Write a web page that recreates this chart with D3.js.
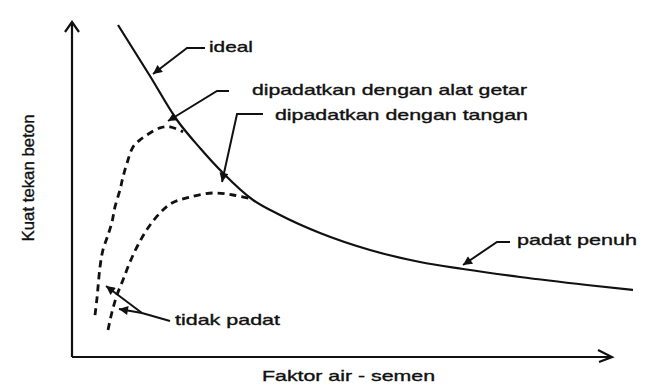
<!DOCTYPE html>
<html>
<head>
<meta charset="utf-8">
<script src="https://cdn.jsdelivr.net/npm/d3@7"></script>
<style>
  html, body { margin: 0; padding: 0; background: #fff; }
  svg { display: block; }
  text { font-family: "Liberation Sans", Arial, sans-serif; fill: #111; stroke: #111; stroke-width: 0.35px; }
</style>
</head>
<body>
<svg id="chart" width="651" height="385"></svg>
<script>
// curve values (x = faktor air-semen, y = kuat tekan, both 0..100 of the axes)
const idealX = [8.52, 14.44, 19.44, 23.7, 27.96, 33.52, 38.52, 45.93, 55.19, 64.44, 72.41, 82.96, 95.37, 103.89];
const idealY = [99.1, 83.88, 70.75, 62.39, 54.93, 46.87, 42.39, 37.01, 31.94, 28.36, 26.27, 23.88, 21.49, 20.0];

const getarX = [4.26, 4.63, 5.19, 5.74, 6.67, 7.41, 7.96, 8.89, 9.44, 10.19, 11.3, 12.59, 13.89, 16.3, 18.15, 20.56];
const getarY = [12.5, 17.6, 26.9, 32.0, 36.4, 40.3, 44.8, 49.9, 53.7, 57.9, 62.7, 64.8, 66.3, 68.4, 68.7, 67.2];

const tanganX = [6.67, 7.41, 8.33, 9.44, 10.74, 12.22, 14.07, 16.3, 18.52, 21.85, 26.11, 29.81, 33.33];
const tanganY = [8.06, 13.43, 18.51, 22.99, 28.36, 33.43, 38.51, 42.99, 45.97, 47.76, 48.96, 48.36, 47.16];

// labels and where their arrows point (in axis units)
const labels = ["ideal", "dipadatkan dengan alat getar", "dipadatkan dengan tangan", "padat penuh", "tidak padat"];
const labelPos = [[25.37, 91.04], [33.33, 78.21], [37.59, 70.75], [82.41, 33.43], [19.07, 9.55]];
const labelWidth = [44, 275, 253, 120, 105];
const leaders = [
  [[[24.63, 92.24], [21.3, 92.24], [15.0, 84.48]]],
  [[[29.07, 79.4], [26.85, 79.4], [17.78, 70.45]]],
  [[[35.37, 72.54], [30.56, 72.54], [27.78, 52.24]]],
  [[[81.11, 34.33], [78.7, 34.33], [72.41, 27.46]]],
  [[[18.15, 10.75], [12.96, 13.13], [8.7, 14.33]], [[12.96, 13.13], [6.3, 21.19]]]
];

const xTitle = "Faktor air - semen";
const yTitle = "Kuat tekan beton";

const svg = d3.select("#chart");

const x = d3.scaleLinear().domain([0, 100]).range([72, 612]);
const y = d3.scaleLinear().domain([0, 100]).range([357, 22]);

svg.append("defs").append("marker")
  .attr("id", "tip")
  .attr("viewBox", "0 0 10 10")
  .attr("refX", 10).attr("refY", 5)
  .attr("markerUnits", "userSpaceOnUse")
  .attr("markerWidth", 11).attr("markerHeight", 9)
  .attr("orient", "auto")
  .append("path")
  .attr("d", "M0,0 L10,5 L0,10 Z")
  .attr("fill", "#111");

// axes with open arrow heads
const axisG = svg.append("g").attr("stroke", "#111").attr("stroke-width", 2.2).attr("fill", "none");
axisG.append("path")
  .attr("d", `M${x(0)},${y(0)} L${x(0)},${y(100)}`);
axisG.append("path")
  .attr("d", `M${x(0) - 7},${y(100) + 10} L${x(0)},${y(100)} L${x(0) + 7},${y(100) + 10}`);
axisG.append("path")
  .attr("d", `M${x(0)},${y(0)} L${x(100)},${y(0)}`);
axisG.append("path")
  .attr("d", `M${x(100) - 14},${y(0) - 7} L${x(100)},${y(0)} L${x(100) - 13},${y(0) + 5}`);

const smooth = d3.line()
  .x(d => x(d[0]))
  .y(d => y(d[1]))
  .curve(d3.curveMonotoneX);

svg.append("path")
  .attr("d", smooth(d3.zip(idealX, idealY)))
  .attr("fill", "none").attr("stroke", "#111").attr("stroke-width", 2.2);

const dashed = d3.line()
  .x(d => x(d[0]))
  .y(d => y(d[1]))
  .curve(d3.curveCatmullRom.alpha(0.5));

[[getarX, getarY], [tanganX, tanganY]].forEach(([xs, ys]) => {
  svg.append("path")
    .attr("d", dashed(d3.zip(xs, ys)))
    .attr("fill", "none").attr("stroke", "#111")
    .attr("stroke-width", 2.8)
    .attr("stroke-dasharray", "7,5");
});

// leaders
const straight = d3.line().x(d => x(d[0])).y(d => y(d[1]));
leaders.forEach(group => {
  group.forEach(pts => {
    svg.append("path")
      .attr("d", straight(pts))
      .attr("fill", "none").attr("stroke", "#111").attr("stroke-width", 2)
      .attr("marker-end", "url(#tip)");
  });
});

svg.selectAll("text.lbl").data(labels).enter()
  .append("text")
  .attr("class", "lbl")
  .attr("x", (d, i) => x(labelPos[i][0]))
  .attr("y", (d, i) => y(labelPos[i][1]))
  .attr("textLength", (d, i) => labelWidth[i])
  .attr("lengthAdjust", "spacingAndGlyphs")
  .style("font-size", "15px")
  .text(d => d);

svg.append("text")
  .attr("x", 262).attr("y", 381)
  .attr("textLength", 173).attr("lengthAdjust", "spacingAndGlyphs")
  .style("font-size", "15px")
  .text(xTitle);

svg.append("text")
  .attr("transform", "translate(34,178) rotate(-90)")
  .attr("text-anchor", "middle")
  .attr("textLength", 127).attr("lengthAdjust", "spacingAndGlyphs")
  .style("font-size", "16px")
  .text(yTitle);
</script>
</body>
</html>
